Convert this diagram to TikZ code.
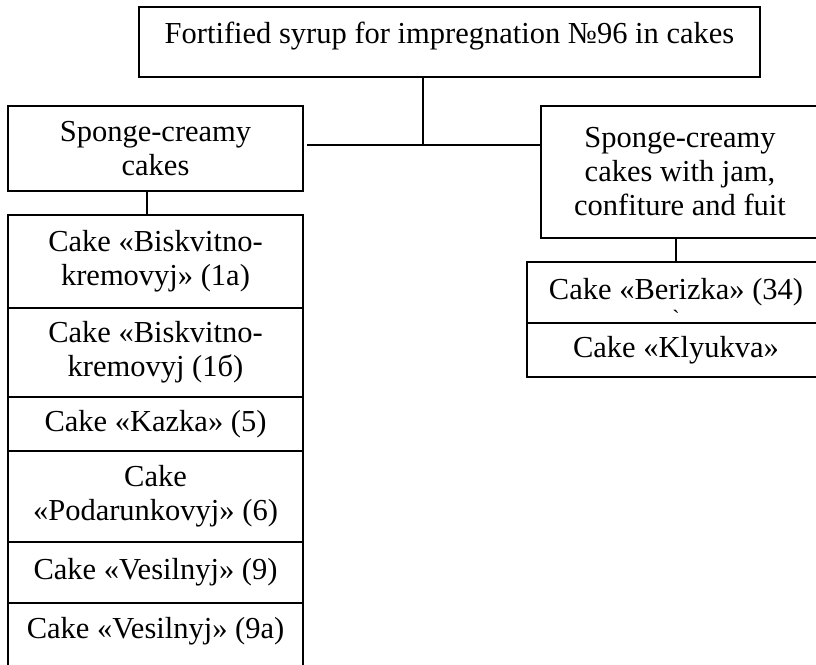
\documentclass[tikz,border=0pt]{standalone}
\usepackage{fontspec}
\setmainfont{Liberation Serif}
\newfontfamily\plainserif{Liberation Serif}
\usepackage{tikz}

\begin{document}
\begin{tikzpicture}[x=1pt,y=-1pt,line width=1.5pt,
	box/.style={draw, rectangle, align=center, inner sep=0pt, outer sep=0pt,
		font=\fontsize{30.5}{34}\selectfont}]
	\useasboundingbox (0,0) rectangle (816,664);
	\clip (0,0) rectangle (816,664);

	\node (top) [box, minimum width=621pt, minimum height=70pt, text depth=19pt] at (449.5,42) {Fortified syrup for impregnation №96 in cakes};

	\node (sponge1) [box, minimum width=295pt, minimum height=85pt] at (155.5,148.5) {Sponge-creamy\\cakes};
	\node (sponge2) [box, minimum width=278pt, minimum height=132pt] at (680,172) {Sponge-creamy\\cakes with jam,\\confiture and fuit};

	\node (cake1a) [box, minimum width=295pt, minimum height=93pt] at (155.5,261.5) {Cake «Biskvitno-\\kremovyj» (1a)};
	\node (cake1b) [box, minimum width=295pt, minimum height=89pt] at (155.5,352.5) {Cake «Biskvitno-\\kremovyj (1б)};
	\node (kazka) [box, minimum width=295pt, minimum height=54pt] at (155.5,424) {Cake «Kazka» (5)};
	\node (podar) [box, minimum width=295pt, minimum height=91pt] at (155.5,496.5) {Cake\\«Podarunkovyj» (6)};
	\node (vesil9) [box, minimum width=295pt, minimum height=61pt] at (155.5,572.5) {Cake «Vesilnyj» (9)};
	\node (vesil9a) [box, minimum width=295pt, minimum height=69pt, text depth=20pt] at (155.5,637.5) {Cake «Vesilnyj» (9a)};

	\node (berizka) [box, minimum width=298pt, minimum height=61pt] at (676,292.5) {Cake «Berizka» (34)};
	\node (tick) [font=\fontsize{22}{22}\plainserif, inner sep=0pt] at (676,318) {\symbol{96}};
	\node (klyukva) [box, minimum width=298pt, minimum height=54pt] at (676,350) {Cake «Klyukva»};

	\coordinate (junction) at (423,145);

	\path (top.south -| junction) edge (junction);
	\path ([xshift=4pt]sponge1.east |- junction) edge (sponge2.west |- junction);
	\path ([xshift=-8.5pt]sponge1.south) edge ([xshift=-8.5pt]cake1a.north);
	\path (sponge2.south -| berizka.north) edge (berizka.north);
\end{tikzpicture}
\end{document}
